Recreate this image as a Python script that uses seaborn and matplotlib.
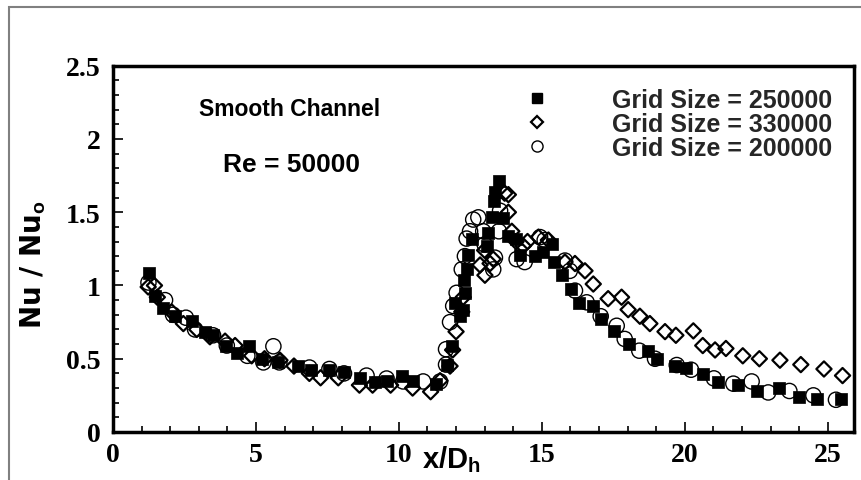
import numpy as np
import matplotlib
matplotlib.use("Agg")
import matplotlib.pyplot as plt
import seaborn as sns
from matplotlib.lines import Line2D
from matplotlib.patches import Rectangle
from matplotlib.ticker import MultipleLocator, FixedLocator, FixedFormatter

# Grid Size = 250000 (filled squares)
x_250k = [1.27, 1.47, 1.76, 2.17, 2.75, 3.22, 3.51, 3.94, 4.33, 4.77, 5.2, 5.78, 6.48, 6.93, 7.55,
          8.08, 8.64, 9.16, 9.6, 10.1, 10.5, 11.29, 11.67, 11.87, 12.14, 12.23, 11.96, 12.31, 12.28, 12.37,
          12.43, 12.57, 13.09, 13.13, 13.25, 13.65, 13.33, 13.36, 13.5, 13.83, 14.1, 14.24, 14.76, 15.05, 15.35,
          15.44, 15.71, 16.03, 16.31, 16.8, 17.06, 17.52, 18.06, 18.72, 19.02, 19.66, 20.04, 20.65, 21.15, 21.87,
          22.54, 23.3, 23.99, 24.61, 25.45]
y_250k = [1.085, 0.93, 0.845, 0.79, 0.76, 0.68, 0.66, 0.585, 0.54, 0.59, 0.50, 0.48, 0.45, 0.425, 0.42,
          0.41, 0.37, 0.34, 0.35, 0.38, 0.345, 0.33, 0.46, 0.59, 0.79, 0.83, 0.88, 0.95, 1.04, 1.11,
          1.21, 1.32, 1.27, 1.36, 1.47, 1.46, 1.58, 1.64, 1.715, 1.34, 1.32, 1.21, 1.20, 1.23, 1.28,
          1.16, 1.07, 0.975, 0.88, 0.86, 0.77, 0.69, 0.60, 0.555, 0.50, 0.45, 0.435, 0.395, 0.34, 0.32,
          0.28, 0.30, 0.24, 0.225, 0.225]

# Grid Size = 330000 (open diamonds)
x_330k = [1.23, 1.45, 1.55, 2.05, 2.46, 2.93, 3.39, 3.92, 4.27, 4.85, 5.3, 5.84, 6.33, 6.87, 7.26,
          7.88, 8.62, 9.08, 9.71, 10.48, 11.11, 11.44, 11.79, 11.88, 12.0, 12.2, 12.25, 12.84, 13.01, 13.19,
          13.3, 13.0, 13.7, 13.83, 13.83, 13.95, 14.1, 14.35, 14.5, 14.88, 15.23, 15.81, 16.16, 16.51, 16.8,
          17.32, 17.79, 18.02, 18.43, 18.78, 19.31, 19.69, 20.3, 20.63, 21.06, 21.44, 22.03, 22.61, 23.33, 24.06,
          24.87, 25.52]
y_330k = [0.99, 1.0, 0.92, 0.82, 0.74, 0.70, 0.65, 0.62, 0.59, 0.52, 0.50, 0.49, 0.45, 0.40, 0.37,
          0.37, 0.32, 0.32, 0.32, 0.30, 0.275, 0.35, 0.45, 0.56, 0.685, 0.82, 0.92, 1.14, 1.07, 1.15,
          1.18, 1.24, 1.63, 1.5, 1.62, 1.37, 1.3, 1.27, 1.30, 1.33, 1.31, 1.16, 1.15, 1.10, 1.01,
          0.91, 0.92, 0.835, 0.79, 0.74, 0.685, 0.66, 0.69, 0.59, 0.56, 0.57, 0.52, 0.50, 0.49, 0.46,
          0.43, 0.385]

# Grid Size = 200000 (open circles)
x_200k = [1.24, 1.82, 2.1, 2.55, 2.87, 3.5, 3.98, 4.7, 5.26, 5.61, 5.82, 6.87, 7.57, 8.08, 8.87,
          9.57, 10.15, 10.85, 11.44, 11.65, 11.65, 11.79, 11.9, 12.02, 12.2, 12.31, 12.37, 12.49, 12.6, 12.78,
          12.95, 13.0, 13.36, 13.3, 13.54, 13.5, 14.12, 14.4, 14.94, 15.1, 15.81, 15.98, 16.16, 16.57, 17.06,
          17.62, 17.9, 18.41, 18.96, 19.72, 20.22, 21.02, 21.7, 22.34, 22.92, 23.66, 24.5, 25.29]
y_200k = [1.02, 0.90, 0.80, 0.78, 0.70, 0.66, 0.59, 0.52, 0.475, 0.585, 0.475, 0.44, 0.43, 0.40, 0.385,
          0.365, 0.345, 0.345, 0.345, 0.565, 0.46, 0.75, 0.86, 0.95, 1.11, 1.20, 1.32, 1.37, 1.45, 1.465,
          1.37, 1.28, 1.19, 1.11, 1.51, 1.37, 1.18, 1.16, 1.33, 1.31, 1.17, 1.10, 0.965, 0.885, 0.79,
          0.725, 0.635, 0.555, 0.50, 0.457, 0.425, 0.366, 0.33, 0.345, 0.27, 0.28, 0.25, 0.22]

series_labels = ["Grid Size = 250000", "Grid Size = 330000", "Grid Size = 200000"]
xtick_vals = [0, 5, 10, 15, 20, 25]
xtick_labels = ["0", "5", "10", "15", "20", "25"]
ytick_vals = [0, 0.5, 1, 1.5, 2, 2.5]
ytick_labels = ["0", "0.5", "1", "1.5", "2", "2.5"]

sns.set_theme(style="ticks")
plt.rcParams["font.family"] = ["Liberation Sans", "DejaVu Sans"]
plt.rcParams["mathtext.fontset"] = "custom"
plt.rcParams["mathtext.bf"] = "Liberation Sans:bold"
plt.rcParams["mathtext.rm"] = "Liberation Sans"

fig = plt.figure(figsize=(8.62, 4.81), dpi=100)
ax = fig.add_axes([0.1311, 0.0998, 0.8596, 0.7615])

sns.scatterplot(x=x_200k, y=y_200k, marker="o", s=120, facecolor="none", edgecolor="black",
                linewidth=1.0, ax=ax, legend=False, zorder=3)
sns.scatterplot(x=x_330k, y=y_330k, marker="D", s=60, facecolor="none", edgecolor="black",
                linewidth=1.6, ax=ax, legend=False, zorder=3)
sns.scatterplot(x=x_250k, y=y_250k, marker="s", s=75, color="black", edgecolor="black",
                linewidth=0.5, ax=ax, legend=False, zorder=4)

ax.set_xlim(0, 25.92)
ax.set_ylim(0, 2.5)
ax.xaxis.set_major_locator(FixedLocator(xtick_vals))
ax.xaxis.set_major_formatter(FixedFormatter(xtick_labels))
ax.yaxis.set_major_locator(FixedLocator(ytick_vals))
ax.yaxis.set_major_formatter(FixedFormatter(ytick_labels))
ax.xaxis.set_minor_locator(MultipleLocator(1))
ax.yaxis.set_minor_locator(MultipleLocator(0.1))
ax.tick_params(which="both", direction="in", width=1.2, color="black")
ax.tick_params(which="major", length=7.5)
ax.tick_params(which="minor", length=4.5)
ax.tick_params(axis="x", which="major", labelsize=20, pad=7)
ax.tick_params(axis="y", which="major", labelsize=20, pad=9)
for lab in ax.get_xticklabels() + ax.get_yticklabels():
    lab.set_fontfamily("Liberation Serif")
    lab.set_fontweight("bold")
    lab.set_color("black")

for sp in ax.spines.values():
    sp.set_linewidth(2.5)
    sp.set_color("black")
    sp.set_visible(True)

ax.set_xlabel(r"x/D$_\mathbf{h}$", fontsize=21, fontweight="bold", color="black")
ax.xaxis.set_label_coords(0.457, -0.03)
ax.set_ylabel(r"Nu / Nu$_\mathbf{o}$", fontsize=20, fontweight="bold", color="black",
              family=["DejaVu Sans"])
ax.yaxis.set_label_coords(-0.088, 0.46)

ax.text(6.19, 2.205, "Smooth Channel", ha="center", va="center", fontsize=16.5,
        fontweight="bold", color="black")
ax.text(6.23, 1.83, "Re = 50000", ha="center", va="center", fontsize=19,
        fontweight="bold", color="black")

handles = [
    Line2D([], [], ls="none", marker="s", markersize=7, color="black"),
    Line2D([], [], ls="none", marker="D", markersize=6.5, mfc="none", mec="black", mew=1.6),
    Line2D([], [], ls="none", marker="o", markersize=8, mfc="none", mec="black", mew=1.0),
]
leg = ax.legend(handles, series_labels, loc="upper left", bbox_to_anchor=(0.555, 0.94),
                frameon=False, borderpad=0, borderaxespad=0, handlelength=1.0,
                handletextpad=2.5, labelspacing=0.0,
                prop={"family": "Liberation Sans", "weight": "bold", "size": 18})

fig.add_artist(Rectangle((9 / 862, -0.5), 2, 1.5 - 8 / 481, transform=fig.transFigure,
                         fill=False, edgecolor="#808080", linewidth=1.5, clip_on=False))

fig.savefig("out.png", dpi=100, facecolor="white")
